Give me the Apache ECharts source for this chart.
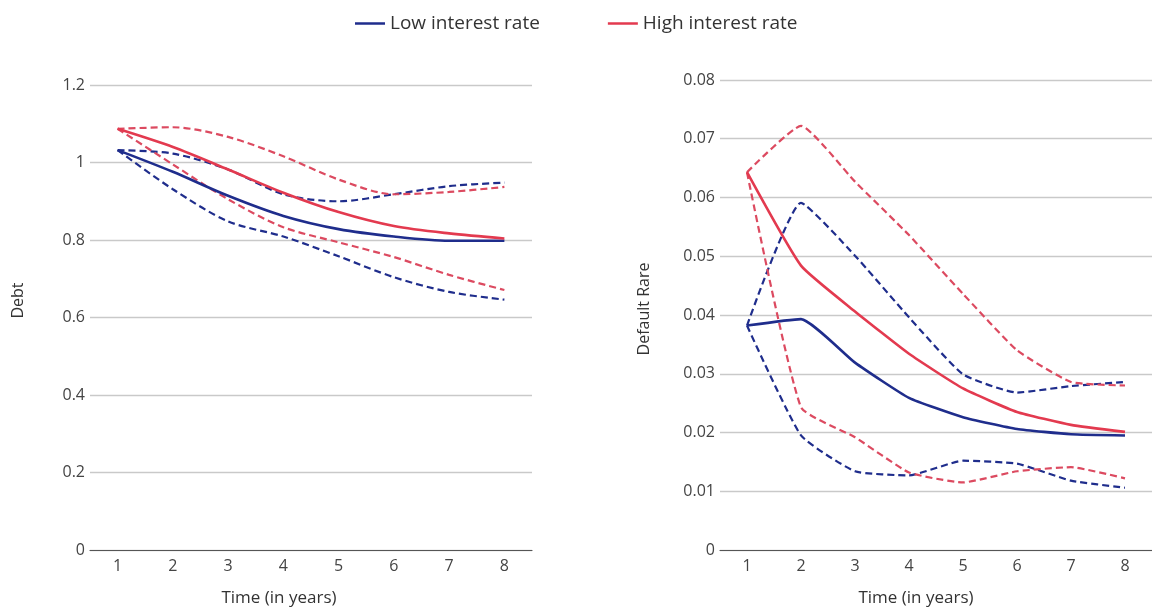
<!DOCTYPE html>
<html>
<head>
<meta charset="utf-8">
<script src="https://cdn.jsdelivr.net/npm/echarts@6/dist/echarts.min.js"></script>
<style>
  html, body { margin: 0; padding: 0; background: #fff; }
  #chart { width: 1152px; height: 612px; }
</style>
</head>
<body>
<div id="chart"></div>
<script>
// Time axis (years)
const years = ['1', '2', '3', '4', '5', '6', '7', '8'];

// Debt paths: central line plus upper/lower bands
const debtLow      = [1.032, 0.976, 0.914, 0.862, 0.828, 0.809, 0.798, 0.798];
const debtLowUp    = [1.032, 1.023, 0.982, 0.918, 0.900, 0.918, 0.939, 0.948];
const debtLowDn    = [1.032, 0.931, 0.848, 0.809, 0.758, 0.704, 0.666, 0.646];
const debtHigh     = [1.087, 1.040, 0.982, 0.922, 0.872, 0.836, 0.817, 0.804];
const debtHighUp   = [1.087, 1.091, 1.066, 1.016, 0.956, 0.918, 0.924, 0.937];
const debtHighDn   = [1.087, 0.995, 0.905, 0.833, 0.794, 0.756, 0.710, 0.671];

// Default rate paths: central line plus upper/lower bands
const defLow       = [0.0382, 0.0393, 0.0319, 0.0259, 0.0226, 0.0206, 0.0197, 0.0195];
const defLowUp     = [0.0382, 0.0591, 0.0501, 0.0396, 0.0299, 0.0268, 0.0279, 0.0286];
const defLowDn     = [0.0382, 0.0195, 0.0134, 0.0127, 0.0152, 0.0147, 0.0118, 0.0106];
const defHigh      = [0.0643, 0.0484, 0.0406, 0.0334, 0.0275, 0.0235, 0.0213, 0.0201];
const defHighUp    = [0.0643, 0.0722, 0.0627, 0.0536, 0.0436, 0.0340, 0.0286, 0.0280];
const defHighDn    = [0.0643, 0.0243, 0.0192, 0.0132, 0.0115, 0.0134, 0.0141, 0.0122];

const LOW = 'Low interest rate';
const HIGH = 'High interest rate';
const BLUE = '#1f2d8c';
const RED = '#e33a4f';
const RED_DASH = '#dc4a60';
const FONT = 'Open Sans';

function line(name, data, idx, color, dashed, smooth) {
  return {
    name: name,
    type: 'line',
    xAxisIndex: idx,
    yAxisIndex: idx,
    data: data,
    symbol: 'none',
    smooth: smooth,
    silent: true,
    z: dashed ? 2 : 3,
    lineStyle: {
      color: color,
      width: dashed ? 2.2 : 2.6,
      type: dashed ? [7, 4] : 'solid'
    },
    itemStyle: { color: color }
  };
}

function xAxis(gridIndex, titleShift) {
  return {
    gridIndex: gridIndex,
    type: 'category',
    data: years,
    boundaryGap: true,
    axisLine: { lineStyle: { color: '#555', width: 1.2 } },
    axisTick: { show: false },
    axisLabel: { color: '#444', fontSize: 16, fontFamily: FONT, margin: 8 },
    name: 'Time (in years)',
    nameLocation: 'middle',
    nameGap: 40,
    nameTextStyle: {
      color: '#333', fontSize: 17, fontFamily: FONT,
      padding: [0, titleShift * 2, 0, 0]
    }
  };
}

function yAxis(gridIndex, max, interval, name, gap, shiftUp) {
  return {
    gridIndex: gridIndex,
    type: 'value',
    min: 0,
    max: max,
    interval: interval,
    axisLine: { show: false },
    axisTick: { show: false },
    splitLine: { lineStyle: { color: '#c9c9c9', width: 1.3 } },
    axisLabel: { color: '#444', fontSize: 16, fontFamily: FONT, margin: 5 },
    name: name,
    nameLocation: 'middle',
    nameRotate: 90,
    nameGap: gap,
    nameTextStyle: {
      color: '#333', fontSize: 16, fontFamily: FONT,
      padding: [0, 0, 0, shiftUp * 2]
    }
  };
}

const option = {
  animation: false,
  backgroundColor: '#fff',
  legend: {
    top: 9,
    left: 350,
    icon: 'rect',
    itemWidth: 30,
    itemHeight: 2.5,
    itemGap: 68,
    data: [LOW, HIGH],
    textStyle: { color: '#333', fontSize: 19, fontFamily: FONT }
  },
  grid: [
    { left: 90, right: 620, top: 85, bottom: 60 },
    { left: 720, right: 0, top: 80, bottom: 62 }
  ],
  xAxis: [xAxis(0, 32), xAxis(1, 20)],
  yAxis: [
    yAxis(0, 1.2, 0.2, 'Debt', 64, 17),
    yAxis(1, 0.08, 0.01, 'Default Rare', 68, 6)
  ],
  series: [
    line(LOW, debtLow, 0, BLUE, false, 0.3),
    line(HIGH, debtHigh, 0, RED, false, 0.3),
    line('Low interest rate (upper)', debtLowUp, 0, BLUE, true, 0.3),
    line('Low interest rate (lower)', debtLowDn, 0, BLUE, true, 0.3),
    line('High interest rate (upper)', debtHighUp, 0, RED_DASH, true, 0.3),
    line('High interest rate (lower)', debtHighDn, 0, RED_DASH, true, 0.3),
    line(LOW + ' ', defLow, 1, BLUE, false, 0.15),
    line(HIGH + ' ', defHigh, 1, RED, false, 0.15),
    line('Low interest rate (upper) ', defLowUp, 1, BLUE, true, 0.15),
    line('Low interest rate (lower) ', defLowDn, 1, BLUE, true, 0.15),
    line('High interest rate (upper) ', defHighUp, 1, RED_DASH, true, 0.15),
    line('High interest rate (lower) ', defHighDn, 1, RED_DASH, true, 0.15)
  ]
};

const chart = echarts.init(document.getElementById('chart'), null, { renderer: 'canvas' });
chart.setOption(option);
</script>
</body>
</html>
